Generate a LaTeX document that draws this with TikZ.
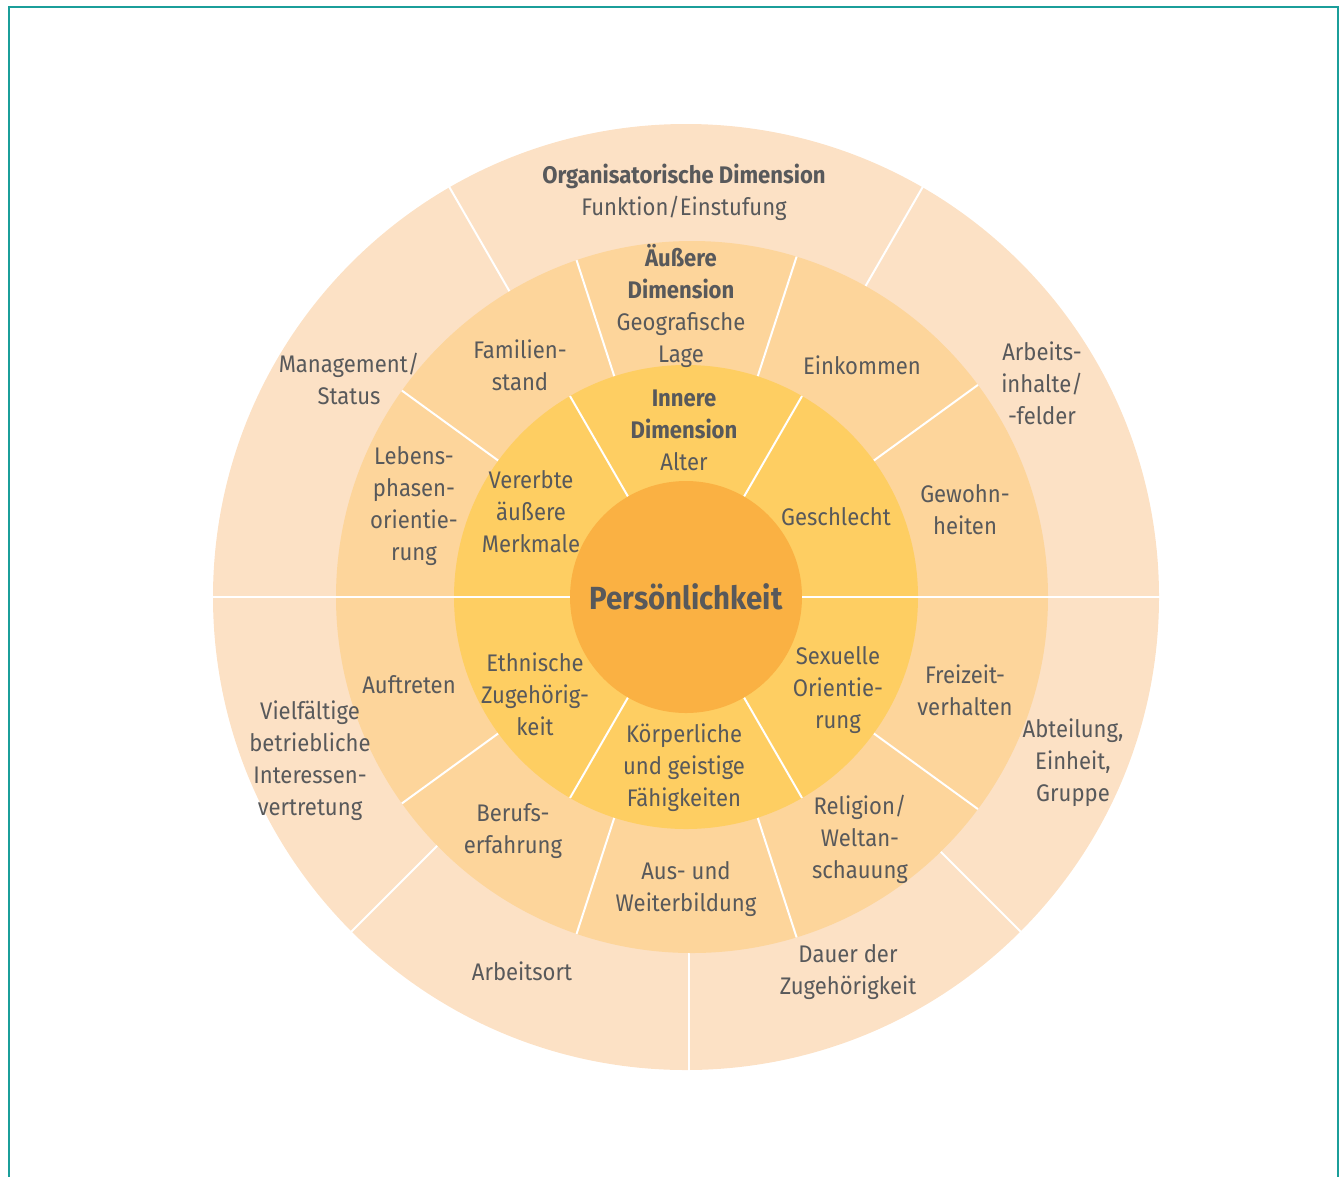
\documentclass[tikz,border=0pt]{standalone}
\usepackage{fontspec}
\setmainfont{Fira Sans}[FakeStretch=0.92]
\usetikzlibrary{calc}
\definecolor{outerc}{HTML}{FCE1C5}
\definecolor{midc}{HTML}{FDD59B}
\definecolor{innc}{HTML}{FECE62}
\definecolor{corec}{HTML}{FAB143}
\definecolor{txtc}{HTML}{58595B}
\definecolor{framec}{HTML}{1B9E9A}
\tikzset{
  lbl/.style={text=txtc, align=center, inner sep=0pt, font=\fontsize{24}{32}\selectfont},
  sep/.style={draw=white, line width=2pt},
}
\begin{document}
\begin{tikzpicture}[x=1pt,y=-1pt]
\useasboundingbox (0,0) rectangle (1340,1176);
\draw[framec, line width=2pt] (8.5,7) rectangle (1337.5,1200);
\coordinate (C) at (686,597);
\coordinate (M) at (692,597);
% outer ring and its separators
\fill[outerc] (C) circle (473pt);
\foreach \a in {60,120,225,315}
  \draw[sep] ($(C)+(\a:330pt)$) -- ($(C)+(\a:474pt)$);
\coordinate (bt1) at (689,930);
\coordinate (bt2) at (689,1072);
\draw[sep] (bt1) -- (bt2);
% middle ring and its separators
\fill[midc] (M) circle (356pt);
\begin{scope}
\clip (M) circle (356pt);
\foreach \a in {36,72,108,144,216,252,288,324}
  \draw[sep] ($(C)+(\a:232pt)$) -- ($(C)+(\a:370pt)$);
\end{scope}
% inner ring and its separators
\fill[innc] (C) circle (232pt);
\foreach \a in {60,120,240,300}
  \draw[sep] ($(C)+(\a:116pt)$) -- ($(C)+(\a:232pt)$);
% core
\fill[corec] (C) circle (116pt);
% horizontal line across all rings
\draw[sep] ($(C)+(180:474pt)$) -- ($(C)+(180:116pt)$);
\draw[sep] ($(C)+(0:116pt)$) -- ($(C)+(0:474pt)$);
% outer labels
\node[lbl] (org) at (684,192) {\textbf{Organisatorische Dimension}\\Funktion/Einstufung};
\node[lbl] (mgmt) at (349,379) {Management/\\Status};
\node[lbl] (arb) at (1042,383) {Arbeits-\\inhalte/\\-felder};
\node[lbl] (vielf) at (310,761) {Vielfältige\\betriebliche\\Interessen-\\vertretung};
\node[lbl] (ort) at (522,971) {Arbeitsort};
\node[lbl] (dauer) at (848,972) {Dauer der\\Zugehörigkeit};
\node[lbl] (abt) at (1073,763) {Abteilung,\\Einheit,\\Gruppe};
% middle labels
\node[lbl] (aus) at (681,306) {\textbf{Äußere}\\\textbf{Dimension}\\Geografische\\Lage};
\node[lbl] (fam) at (520,365) {Familien-\\stand};
\node[lbl] (eink) at (862,365) {Einkommen};
\node[lbl] (leb) at (414,506) {Lebens-\\phasen-\\orientie-\\rung};
\node[lbl] (gew) at (965,510) {Gewohn-\\heiten};
\node[lbl] (auf) at (409,685) {Auftreten};
\node[lbl] (frei) at (965,690) {Freizeit-\\verhalten};
\node[lbl] (ber) at (513,831) {Berufs-\\erfahrung};
\node[lbl] (bild) at (686,889) {Aus- und\\Weiterbildung};
\node[lbl] (rel) at (860,839) {Religion/\\Weltan-\\schauung};
% inner labels
\node[lbl] (inn) at (684,430) {\textbf{Innere}\\\textbf{Dimension}\\Alter};
\node[lbl] (ver) at (531,512) {Vererbte\\äußere\\Merkmale};
\node[lbl] (ges) at (836,517) {Geschlecht};
\node[lbl] (eth) at (535,694) {Ethnische\\Zugehörig-\\keit};
\node[lbl] (koe) at (684,768) {Körperliche\\und geistige\\Fähigkeiten};
\node[lbl] (sex) at (838,690) {Sexuelle\\Orientie-\\rung};
% core label
\node[lbl, font=\fontsize{32}{36}\selectfont\bfseries] (pers) at (686,597) {Persönlichkeit};
\end{tikzpicture}
\end{document}
